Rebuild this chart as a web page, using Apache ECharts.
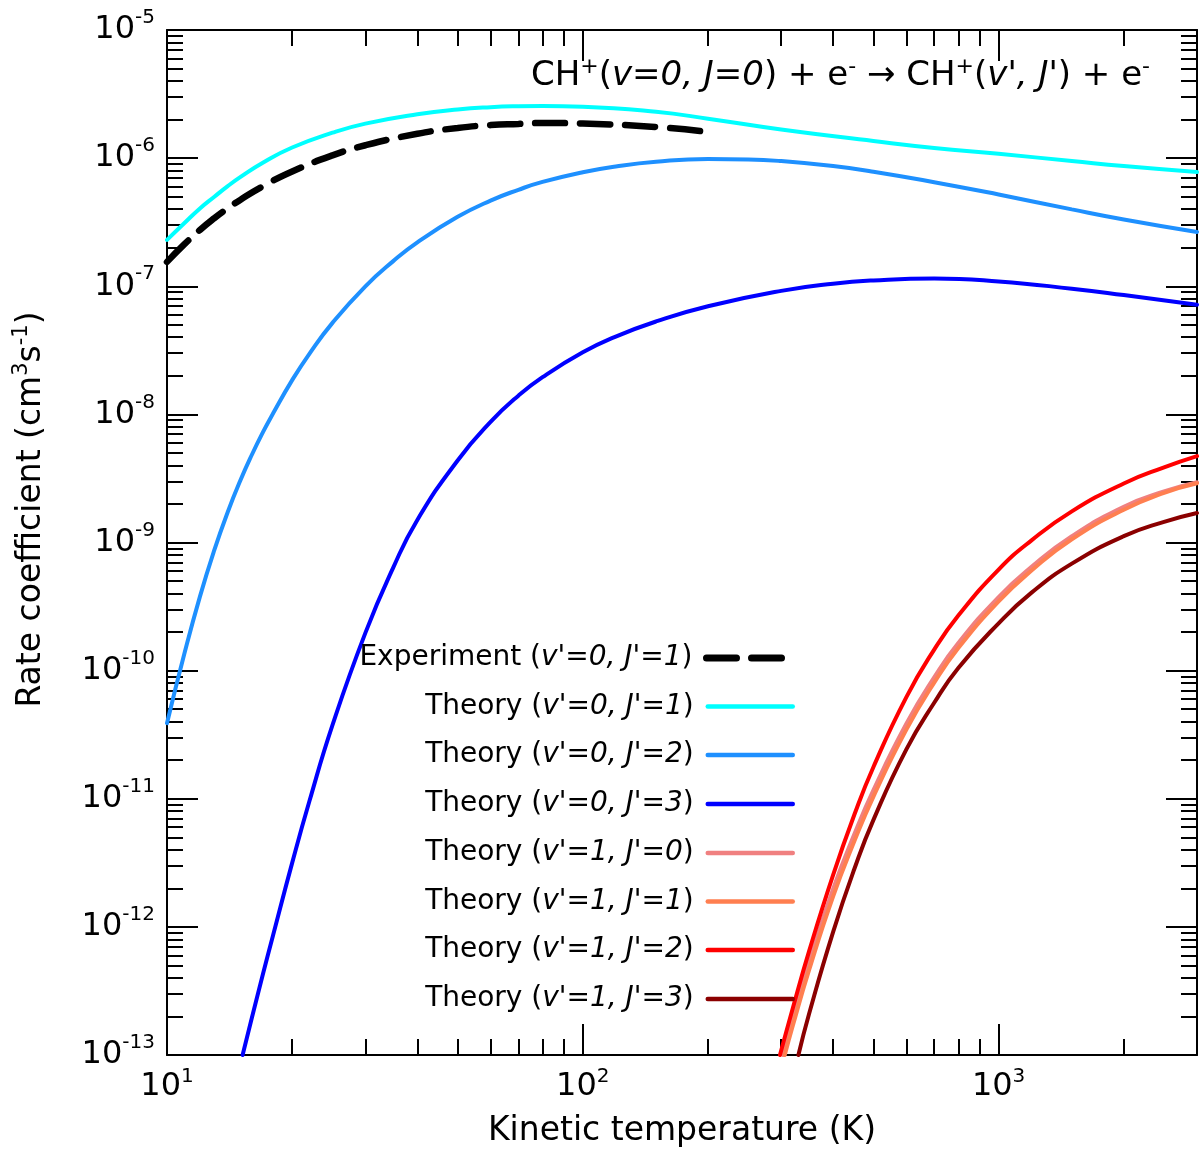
<!DOCTYPE html>
<html>
<head>
<meta charset="utf-8">
<title>CH+ rate coefficients</title>
<script src="https://cdn.jsdelivr.net/npm/echarts@6.0.0/dist/echarts.min.js"></script>
<style>
  html, body { margin: 0; padding: 0; background: #fff; }
  #chart { width: 1200px; height: 1151px; }
</style>
</head>
<body>
<div id="chart"></div>
<script>
// temperature (K) / rate coefficient (cm^3 s^-1)
const tExp = [10, 11, 12, 13, 14, 15, 17, 20, 25, 30, 40, 50, 60, 70, 80, 100, 150, 200];
const kExp = [1.55e-7, 2.12e-7, 2.75e-7, 3.40e-7, 4.06e-7, 4.72e-7, 6.03e-7, 7.87e-7, 1.05e-6, 1.26e-6,
              1.55e-6, 1.72e-6, 1.81e-6, 1.85e-6, 1.88e-6, 1.86e-6, 1.75e-6, 1.60e-6];

const t01 = [10, 11, 12, 13, 14, 15, 17, 20, 25, 30, 40, 50, 60, 70, 80, 100, 150, 200, 300, 500, 700, 1000, 1500, 2000, 3000];
const k01 = [2.30e-7, 3.10e-7, 4.05e-7, 5.00e-7, 6.05e-7, 7.10e-7, 9.20e-7, 1.21e-6, 1.58e-6, 1.86e-6,
             2.20e-6, 2.40e-6, 2.50e-6, 2.54e-6, 2.55e-6, 2.52e-6, 2.30e-6, 2.03e-6, 1.67e-6, 1.36e-6,
             1.20e-6, 1.08e-6, 9.50e-7, 8.67e-7, 7.79e-7];

const t02 = [10, 11, 12, 13, 14, 15, 16, 17, 18, 20, 22, 25, 30, 35, 40, 50, 60, 70, 80, 100, 120, 150,
             200, 250, 300, 400, 500, 700, 1000, 1500, 2000, 3000];
const k02 = [3.89e-11, 1.34e-10, 3.78e-10, 8.75e-10, 1.73e-9, 3.03e-9, 4.84e-9, 7.23e-9, 1.02e-8, 1.85e-8,
             2.97e-8, 5.18e-8, 9.98e-8, 1.57e-7, 2.20e-7, 3.48e-7, 4.66e-7, 5.66e-7, 6.52e-7, 7.76e-7,
             8.61e-7, 9.37e-7, 9.84e-7, 9.77e-7, 9.48e-7, 8.67e-7, 7.84e-7, 6.49e-7, 5.20e-7, 3.98e-7,
             3.32e-7, 2.65e-7];

const t03 = [15.2, 16, 17, 18, 20, 22, 25, 30, 35, 40, 50, 60, 70, 80, 100, 120, 150, 200, 300, 400,
             500, 700, 1000, 1500, 2000, 3000];
const k03 = [1.0e-13, 1.95e-13, 4.24e-13, 8.65e-13, 3.16e-12, 9.55e-12, 3.75e-11, 1.97e-10, 6.37e-10, 1.50e-9,
             4.37e-9, 8.73e-9, 1.40e-8, 1.95e-8, 3.05e-8, 4.05e-8, 5.31e-8, 6.98e-8, 9.20e-8, 1.047e-7,
             1.11e-7, 1.15e-7, 1.09e-7, 9.57e-8, 8.53e-8, 7.16e-8];

const t10 = [303, 320, 350, 400, 450, 500, 600, 700, 800, 1000, 1200, 1500, 2000, 2500, 3000];
const k10 = [1.0e-13, 1.9e-13, 5.3e-13, 1.98e-12, 5.3e-12, 1.17e-11, 3.85e-11, 8.85e-11, 1.64e-10,
             3.75e-10, 6.45e-10, 1.12e-9, 1.9e-9, 2.5e-9, 2.95e-9];

const t11 = [306, 320, 350, 400, 450, 500, 600, 700, 800, 1000, 1200, 1500, 2000, 2500, 3000];
const k11 = [1.0e-13, 1.7e-13, 4.59e-13, 1.73e-12, 4.67e-12, 1.04e-11, 3.46e-11, 8.05e-11, 1.50e-10,
             3.47e-10, 6.04e-10, 1.06e-9, 1.80e-9, 2.44e-9, 2.90e-9];

const t12 = [298, 320, 350, 400, 450, 500, 600, 700, 800, 1000, 1200, 1500, 2000, 2500, 3000];
const k12 = [1.0e-13, 2.33e-13, 6.44e-13, 2.55e-12, 7.53e-12, 1.77e-11, 6.22e-11, 1.46e-10, 2.69e-10,
             6.15e-10, 1.04e-9, 1.75e-9, 2.89e-9, 3.86e-9, 4.72e-9];

const t13 = [330, 350, 400, 450, 500, 600, 700, 800, 1000, 1200, 1500, 2000, 2500, 3000];
const k13 = [1.0e-13, 2.09e-13, 9.14e-13, 2.84e-12, 6.84e-12, 2.43e-11, 5.61e-11, 1.05e-10, 2.34e-10,
             4.06e-10, 6.84e-10, 1.12e-9, 1.45e-9, 1.70e-9];

const names = [
    "Experiment (v'=0, J'=1)",
    "Theory (v'=0, J'=1)",
    "Theory (v'=0, J'=2)",
    "Theory (v'=0, J'=3)",
    "Theory (v'=1, J'=0)",
    "Theory (v'=1, J'=1)",
    "Theory (v'=1, J'=2)",
    "Theory (v'=1, J'=3)"
];
const temps = [tExp, t01, t02, t03, t10, t11, t12, t13];
const rates = [kExp, k01, k02, k03, k10, k11, k12, k13];
const colors = ['#000000', '#00FFFF', '#1E90FF', '#0000FF', '#F08080', '#FF7F50', '#FF0000', '#8B0000'];
const legendRows = [657, 705.5, 754, 803, 852, 900.5, 949, 998];

// minor tick positions (2..9 per decade)
const xMinor = [20, 30, 40, 50, 60, 70, 80, 90, 200, 300, 400, 500, 600, 700, 800, 900, 2000];
const yMinor = [];
for (let e = -13; e < -5; e++) {
    for (let m = 2; m <= 9; m++) yMinor.push(e + Math.log10(m));
}

const FONT = 'DejaVu Sans';
const black = '#000';
const dash = [30, 15];

const labelRich = {
    b: { fontSize: 32, fontFamily: FONT, color: black, lineHeight: 44 },
    s: { fontSize: 20, fontFamily: FONT, color: black, lineHeight: 20, verticalAlign: 'top' }
};
const xLabelRich = {
    b: { fontSize: 32, fontFamily: FONT, color: black, lineHeight: 40 },
    s: { fontSize: 20, fontFamily: FONT, color: black, lineHeight: 20, verticalAlign: 'top' }
};

function powLabel(v) {
    const e = Math.log10(v);
    const r = Math.round(e);
    if (Math.abs(e - r) > 1e-6) return '';
    return '{b|10}{s|' + r + '}';
}

const lineStyleAxis = { color: black, width: 2 };

function majorAxis(pos, extra) {
    return Object.assign({
        type: 'log',
        logBase: 10,
        position: pos,
        axisLine: { show: true, onZero: false, lineStyle: lineStyleAxis },
        axisTick: { show: true, inside: true, length: 31, lineStyle: lineStyleAxis },
        minorTick: { show: false },
        splitLine: { show: false },
        axisLabel: { show: false }
    }, extra);
}

function minorAxis(pos, min, max, ticks) {
    return {
        type: 'value',
        position: pos,
        min: min,
        max: max,
        axisLine: { show: false, onZero: false },
        axisTick: { show: true, inside: true, length: 16, customValues: ticks, lineStyle: lineStyleAxis },
        axisLabel: { show: false },
        splitLine: { show: false }
    };
}

const xMax = 3000;

const series = names.map(function (name, i) {
    const pts = temps[i].map(function (t, j) { return [t, rates[i][j]]; });
    const isExp = i === 0;
    return {
        name: name,
        type: 'line',
        xAxisIndex: 0,
        yAxisIndex: 0,
        data: pts,
        symbol: 'none',
        showSymbol: false,
        smooth: 0.5,
        lineStyle: {
            color: colors[i],
            width: isExp ? 6.5 : 4,
            type: isExp ? dash : 'solid',
            cap: 'round'
        },
        itemStyle: { color: colors[i] }
    };
});

const legends = names.map(function (name, i) {
    const isExp = i === 0;
    return {
        data: [name],
        orient: 'horizontal',
        align: 'right',
        right: 405,
        top: legendRows[i] - 13,
        padding: 0,
        itemWidth: 85,
        itemHeight: 6,
        selectedMode: false,
        itemStyle: { opacity: 0 },
        lineStyle: {
            color: colors[i],
            width: isExp ? 7 : 4.5,
            type: isExp ? dash : 'solid',
            cap: 'round',
            opacity: 1
        },
        formatter: function (n) {
            const m = n.match(/^(.*\()(.*)\)$/);
            return '{n|' + m[1] + '}{i|' + m[2] + '}{n|)}';
        },
        textStyle: {
            fontSize: 28,
            fontFamily: FONT,
            color: black,
            padding: [0, 9, 0, 0],
            rich: {
                n: { fontSize: 28, fontFamily: FONT, color: black, lineHeight: 34 },
                i: { fontSize: 28, fontFamily: FONT, fontStyle: 'italic', color: black, lineHeight: 34 }
            }
        }
    };
});

const chart = echarts.init(document.getElementById('chart'));
chart.setOption({
    backgroundColor: '#fff',
    animation: false,
    title: {
        text: '{n|CH}{s|+}{n|(}{i|v=0, J=0}{n|) + e}{s|-}{n| \u2192 CH}{s|+}{n|(}{i|v\', J\'}{n|) + e}{s|-}',
        right: 50,
        top: 56,
        padding: 0,
        textStyle: {
            fontSize: 34,
            fontFamily: FONT,
            color: black,
            fontWeight: 'normal',
            rich: {
                n: { fontSize: 34, fontFamily: FONT, color: black, lineHeight: 40 },
                i: { fontSize: 34, fontFamily: FONT, fontStyle: 'italic', color: black, lineHeight: 40 },
                s: { fontSize: 22, fontFamily: FONT, color: black, lineHeight: 22, verticalAlign: 'top' }
            }
        }
    },
    legend: legends,
    grid: { left: 167, top: 30, width: 1030, height: 1025, outerBoundsMode: 'none' },
    xAxis: [
        majorAxis('bottom', {
            min: 10, max: xMax,
            axisLabel: { show: true, margin: 12, formatter: powLabel, rich: xLabelRich },
            name: 'Kinetic temperature (K)',
            nameLocation: 'middle',
            nameGap: 60,
            nameTextStyle: { fontSize: 33, fontFamily: FONT, color: black }
        }),
        majorAxis('top', { min: 10, max: xMax }),
        minorAxis('bottom', 1, Math.log10(xMax), xMinor.map(Math.log10)),
        minorAxis('top', 1, Math.log10(xMax), xMinor.map(Math.log10))
    ],
    yAxis: [
        majorAxis('left', {
            min: 1e-13, max: 1e-5,
            axisLabel: { show: true, margin: 12, formatter: powLabel, rich: labelRich },
            name: '{n|Rate coefficient (cm}{s|3}{n|s}{s|-1}{n|)}',
            nameLocation: 'middle',
            nameGap: 116,
            nameTextStyle: {
                fontSize: 33, fontFamily: FONT, color: black,
                padding: [0, 0, 0, 66],
                rich: {
                    n: { fontSize: 33, fontFamily: FONT, color: black, lineHeight: 40 },
                    s: { fontSize: 21, fontFamily: FONT, color: black, lineHeight: 21, verticalAlign: 'top' }
                }
            }
        }),
        majorAxis('right', { min: 1e-13, max: 1e-5 }),
        minorAxis('left', -13, -5, yMinor),
        minorAxis('right', -13, -5, yMinor)
    ],
    series: series
});

window.addEventListener('resize', function () { chart.resize(); });
</script>
</body>
</html>
